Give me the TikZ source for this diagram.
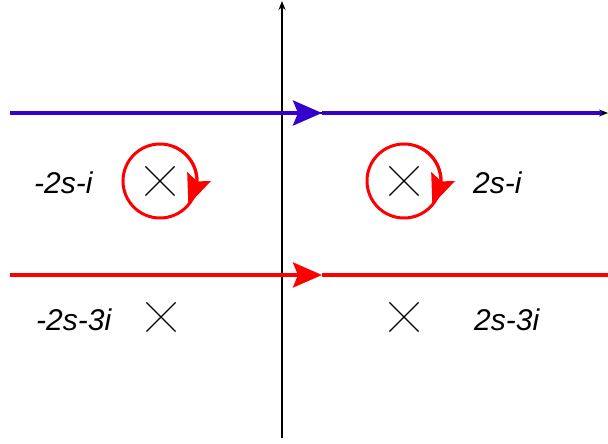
\documentclass[tikz,border=0pt]{standalone}
\usepackage{fontspec}
\setmainfont{Liberation Sans}
\usetikzlibrary{arrows.meta,bending,shapes.misc}
\definecolor{pathblue}{RGB}{51,0,204}
\definecolor{pathred}{RGB}{255,0,0}
\tikzset{
  pole/.style={draw,cross out,minimum size=28pt,inner sep=0pt,line width=1.2pt},
  loopring/.style={draw=pathred,circle,minimum size=74pt,inner sep=0pt,outer sep=0pt,line width=3pt},
  contour/.style={line width=3.6pt},
  midtip/.style={-{Stealth[length=29pt,width=25pt,inset=5pt]}},
  looptip/.style={-{Stealth[length=30pt,width=25pt,inset=5pt,flex]}},
  axis/.style={line width=1.4pt,-{Stealth[length=9pt,width=7pt]}},
  label/.style={anchor=base west,inner sep=0pt,font=\itshape\fontsize{30}{32}\selectfont}
}
\begin{document}
\begin{tikzpicture}[x=1pt,y=1pt,yscale=-1]
\useasboundingbox (0,0) rectangle (608,444);

%Coordinates of the axes and the two lines
\coordinate (vbot) at (282,438);
\coordinate (vtop) at (282,1);
\coordinate (hleft) at (10,113);
\coordinate (hright) at (608,113);
\coordinate (bend) at (602,113);
\coordinate (bmid) at (322,113);
\coordinate (rleft) at (10,275);
\coordinate (rmid) at (322,275);
\coordinate (rright) at (608,275);

%Straight Lines: axes
\draw [axis] (vbot) -- (vtop) ;
\draw [axis] (hleft) -- (hright) ;

%Straight Lines: blue line
\draw [pathblue,contour,midtip] (hleft) -- (bmid) ;
\draw [pathblue,contour] (bmid) -- (bend) ;
%Straight Lines: red line
\draw [pathred,contour,midtip] (rleft) -- (rmid) ;
\draw [pathred,contour] (rmid) -- (rright) ;

%Shape: Crosses
\node [pole] (pa) at (160,181) {};
\node [pole] (pb) at (404,181) {};
\node [pole] (pc) at (161,317) {};
\node [pole] (pd) at (404,317) {};

%Shape: Circles round the upper poles
\node [loopring] (ca) at (pa) {};
\node [loopring] (cb) at (pb) {};
\draw [pathred,line width=3pt,looptip] (pa) ++(-70:37) arc[start angle=-70,end angle=40,radius=37] ;
\draw [pathred,line width=3pt,looptip] (pb) ++(-70:37) arc[start angle=-70,end angle=40,radius=37] ;

% Text Node
\node [label] (ta) at (34,193) {-2s-i};
% Text Node
\node [label] (tb) at (473,193) {2s-i};
% Text Node
\node [label] (tc) at (36,330) {-2s-3i};
% Text Node
\node [label] (td) at (474,330) {2s-3i};

\end{tikzpicture}
\end{document}
